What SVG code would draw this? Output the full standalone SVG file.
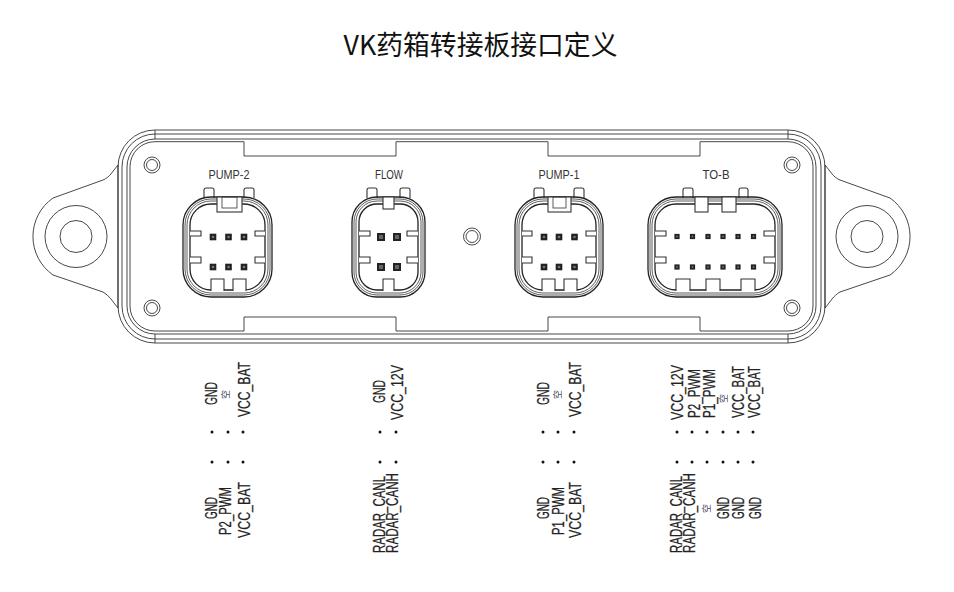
<svg xmlns="http://www.w3.org/2000/svg" width="954" height="592" viewBox="0 0 954 592">
<style>
.l{fill:none;stroke:#333;stroke-width:.9}
.k{fill:#fff;stroke:#333;stroke-width:1.1}
.r{fill:none;stroke:#333;stroke-width:.8}
.o{fill:none;stroke:#222;stroke-width:1.3}
.d{fill:#111}
.t{font-family:"Liberation Sans",Arial,sans-serif;font-size:16px;fill:#222;stroke:#222;stroke-width:.25}
.c{font-family:"Noto Sans CJK SC",sans-serif;font-size:9px;fill:#445}
.n{font-family:"Liberation Sans",Arial,sans-serif;font-size:12.5px;fill:#333;text-anchor:middle}
</style>
<defs>
<g id="pin"><rect x="-3.300" y="-3.300" width="6.600" height="6.600" fill="#222"/><circle r="1.300" fill="#777"/></g>
<g id="pin-s"><rect x="-2.600" y="-2.600" width="5.200" height="5.200" fill="#222"/><circle r=".9" fill="#777"/></g>
<g id="pin-f"><rect x="-4" y="-4" width="8" height="8" fill="#222"/><rect x="-2" y="-2" width="4" height="4" fill="#666"/></g>
</defs>
<rect width="954" height="592" fill="#fff"/>
<text id="title" x="480.500" y="55" text-anchor="middle" font-family="'Noto Sans CJK SC',sans-serif" font-size="26.800" fill="#111">VK药箱转接板接口定义</text>
<g id="plate">
<path class="l" d="M118 165C112 172 110 177 103 180L53 198A47 47 0 0 0 53 275L103 292C110 296 112 301 118 308"/>
<path class="l" d="M825 165C831 172 833 177 840 180L890 198A47 47 0 0 1 890 275L840 292C833 296 831 301 825 308"/>
<circle class="l" cx="76" cy="236.500" r="31"/><circle class="l" cx="76" cy="236.500" r="16"/>
<circle class="l" cx="867" cy="236.500" r="31"/><circle class="l" cx="867" cy="236.500" r="16"/>
<rect class="l" x="118" y="130" width="707" height="213" rx="37"/>
<rect class="l" x="122" y="134" width="699" height="205" rx="33"/>
<rect class="l" x="127" y="139" width="689" height="195" rx="28"/>
<path class="l" d="M155 130V139M788 130V139M155 334V343M788 334V343M118 165V308M825 165V308"/>
<path class="l" d="M155 141.700H244V156H396V141.700H548V156H700V141.700H788A25 25 0 0 1 813 166.700V306A25 25 0 0 1 788 331H700V317H548V331H396V317H244V331H155A25 25 0 0 1 130 306V166.700A25 25 0 0 1 155 141.700Z"/>
<g id="holes">
<circle class="l" cx="152" cy="165" r="8"/><circle class="l" cx="152" cy="165" r="5.500"/>
<circle class="l" cx="152" cy="308" r="8"/><circle class="l" cx="152" cy="308" r="5.500"/>
<circle class="l" cx="792" cy="165" r="8"/><circle class="l" cx="792" cy="165" r="5.500"/>
<circle class="l" cx="792" cy="308" r="8"/><circle class="l" cx="792" cy="308" r="5.500"/>
<circle class="l" cx="472" cy="236.500" r="8.500"/><circle class="l" cx="472" cy="236.500" r="6"/>
</g>
</g>
<g id="pump-2">
<text class="n" x="229" y="179" textLength="41" lengthAdjust="spacingAndGlyphs">PUMP-2</text>
<path class="k" d="M204 198V190Q204 188 206 188H212Q214 188 214 190V198M244 198V190Q244 188 246 188H252Q254 188 254 190V198"/>
<rect class="o" x="183" y="197" width="89" height="100" rx="28"/><rect class="r" x="185" y="199" width="85" height="96" rx="26"/><rect class="r" x="187" y="201" width="81" height="92" rx="24"/><rect class="o" x="190" y="204" width="75" height="86" rx="21"/>
<rect class="k" x="217" y="197" width="25" height="15"/><rect class="r" x="222" y="197" width="15" height="11"/>
<path class="k" d="M190 231H201V236H190M190 257H201V263H190M265 231H255V236H265M265 257H255V263H265"/>
<path class="k" d="M211 291V279H224V291M233 291V279H246V291"/>
<use href="#pin" x="213" y="237"/><use href="#pin" x="228.500" y="237"/><use href="#pin" x="244" y="237"/><use href="#pin" x="213" y="267"/><use href="#pin" x="228.500" y="267"/><use href="#pin" x="244" y="267"/>
</g>
<g id="flow">
<text class="n" x="389" y="179" textLength="28" lengthAdjust="spacingAndGlyphs">FLOW</text>
<path class="k" d="M367 198V190Q367 188 369 188H375Q377 188 377 190V198M400 198V190Q400 188 402 188H408Q410 188 410 190V198"/>
<rect class="o" x="352" y="197" width="73" height="100" rx="25"/><rect class="r" x="354" y="199" width="69" height="96" rx="23"/><rect class="r" x="356" y="201" width="65" height="92" rx="21"/><rect class="o" x="359" y="204" width="59" height="86" rx="18"/>
<rect class="k" x="383" y="197" width="11" height="12"/>
<path class="k" d="M359 231H370V236H359M359 257H370V263H359M418 231H407V236H418M418 257H407V263H418"/>
<path class="k" d="M383 291V279H394V291"/>
<use href="#pin-f" x="381" y="237"/><use href="#pin-f" x="397" y="237"/><use href="#pin-f" x="381" y="267"/><use href="#pin-f" x="397" y="267"/>
</g>
<g id="pump-1">
<text class="n" x="559" y="179" textLength="41" lengthAdjust="spacingAndGlyphs">PUMP-1</text>
<path class="k" d="M534 198V190Q534 188 536 188H542Q544 188 544 190V198M574 198V190Q574 188 576 188H582Q584 188 584 190V198"/>
<rect class="o" x="515" y="197" width="88" height="100" rx="28"/><rect class="r" x="517" y="199" width="84" height="96" rx="26"/><rect class="r" x="519" y="201" width="80" height="92" rx="24"/><rect class="o" x="522" y="204" width="74" height="86" rx="21"/>
<rect class="k" x="548" y="197" width="23" height="15"/><rect class="r" x="553" y="197" width="13" height="11"/>
<path class="k" d="M522 231H532V236H522M522 257H532V263H522M596 231H586V236H596M596 257H586V263H596"/>
<path class="k" d="M542 291V279H555V291M564 291V279H577V291"/>
<use href="#pin" x="544" y="237"/><use href="#pin" x="559" y="237"/><use href="#pin" x="574.500" y="237"/><use href="#pin" x="544" y="267"/><use href="#pin" x="559" y="267"/><use href="#pin" x="574.500" y="267"/>
</g>
<g id="to-b">
<text class="n" x="716" y="179" textLength="27" lengthAdjust="spacingAndGlyphs">TO-B</text>
<path class="k" d="M683 198V190Q683 188 685 188H691Q693 188 693 190V198M739 198V190Q739 188 741 188H746Q748 188 748 190V198"/>
<rect class="o" x="648" y="197" width="134" height="100" rx="28"/><rect class="r" x="650" y="199" width="130" height="96" rx="26"/><rect class="r" x="652" y="201" width="126" height="92" rx="24"/><rect class="o" x="655" y="204" width="120" height="86" rx="21"/>
<rect class="k" x="695" y="197" width="13" height="15"/><rect class="k" x="722" y="197" width="14" height="15"/>
<path class="k" d="M655 231H666V236H655M655 257H666V263H655M775 231H764V236H775M775 257H764V263H775"/>
<path class="k" d="M676 291V279H690V291M706 291V279H720V291M741 291V279H755V291"/>
<use href="#pin-s" x="677" y="236.500"/><use href="#pin-s" x="692.500" y="236.500"/><use href="#pin-s" x="708" y="236.500"/><use href="#pin-s" x="723" y="236.500"/><use href="#pin-s" x="738" y="236.500"/><use href="#pin-s" x="753.500" y="236.500"/><use href="#pin-s" x="677" y="267"/><use href="#pin-s" x="692.500" y="267"/><use href="#pin-s" x="708" y="267"/><use href="#pin-s" x="723" y="267"/><use href="#pin-s" x="738" y="267"/><use href="#pin-s" x="753.500" y="267"/>
</g>
<g id="pinout-pump-2">
<text class="t" transform="translate(217 405) rotate(-90)" textLength="23" lengthAdjust="spacingAndGlyphs">GND</text>
<text class="c" transform="translate(229 399) rotate(-90)">空</text>
<text class="t" transform="translate(250 417) rotate(-90)" textLength="55" lengthAdjust="spacingAndGlyphs">VCC_BAT</text>
<text class="t" transform="translate(217 519) rotate(-90)" textLength="22" lengthAdjust="spacingAndGlyphs">GND</text>
<text class="t" transform="translate(231 535) rotate(-90)" textLength="48" lengthAdjust="spacingAndGlyphs">P2_PWM</text>
<text class="t" transform="translate(250 538) rotate(-90)" textLength="56" lengthAdjust="spacingAndGlyphs">VCC_BAT</text>
<circle class="d" cx="212" cy="432" r="1.500"/><circle class="d" cx="228" cy="432" r="1.500"/><circle class="d" cx="243" cy="432" r="1.500"/>
<circle class="d" cx="212" cy="462" r="1.500"/><circle class="d" cx="228" cy="462" r="1.500"/><circle class="d" cx="243" cy="462" r="1.500"/>
</g>
<g id="pinout-flow">
<text class="t" transform="translate(385 403) rotate(-90)" textLength="23" lengthAdjust="spacingAndGlyphs">GND</text>
<text class="t" transform="translate(403 420) rotate(-90)" textLength="55" lengthAdjust="spacingAndGlyphs">VCC_12V</text>
<text class="t" transform="translate(385 553) rotate(-90)" textLength="77" lengthAdjust="spacingAndGlyphs">RADAR_CANL</text>
<text class="t" transform="translate(398 553) rotate(-90)" textLength="80" lengthAdjust="spacingAndGlyphs">RADAR_CANH</text>
<circle class="d" cx="380" cy="432" r="1.500"/><circle class="d" cx="396" cy="432" r="1.500"/>
<circle class="d" cx="380" cy="462" r="1.500"/><circle class="d" cx="396" cy="462" r="1.500"/>
</g>
<g id="pinout-pump-1">
<text class="t" transform="translate(549 405) rotate(-90)" textLength="23" lengthAdjust="spacingAndGlyphs">GND</text>
<text class="c" transform="translate(561 399) rotate(-90)">空</text>
<text class="t" transform="translate(581 417) rotate(-90)" textLength="55" lengthAdjust="spacingAndGlyphs">VCC_BAT</text>
<text class="t" transform="translate(549 519) rotate(-90)" textLength="22" lengthAdjust="spacingAndGlyphs">GND</text>
<text class="t" transform="translate(564 535) rotate(-90)" textLength="48" lengthAdjust="spacingAndGlyphs">P1_PWM</text>
<text class="t" transform="translate(581 538) rotate(-90)" textLength="56" lengthAdjust="spacingAndGlyphs">VCC_BAT</text>
<circle class="d" cx="543" cy="432" r="1.500"/><circle class="d" cx="558" cy="432" r="1.500"/><circle class="d" cx="574" cy="432" r="1.500"/>
<circle class="d" cx="543" cy="462" r="1.500"/><circle class="d" cx="558" cy="462" r="1.500"/><circle class="d" cx="574" cy="462" r="1.500"/>
</g>
<g id="pinout-to-b">
<text class="t" transform="translate(683 420) rotate(-90)" textLength="55" lengthAdjust="spacingAndGlyphs">VCC_12V</text>
<text class="t" transform="translate(700 418) rotate(-90)" textLength="49" lengthAdjust="spacingAndGlyphs">P2_PWM</text>
<text class="t" transform="translate(715 418) rotate(-90)" textLength="49" lengthAdjust="spacingAndGlyphs">P1_PWM</text>
<text class="c" transform="translate(727 403) rotate(-90)">空</text>
<text class="t" transform="translate(744 418) rotate(-90)" textLength="52" lengthAdjust="spacingAndGlyphs">VCC_BAT</text>
<text class="t" transform="translate(760 418) rotate(-90)" textLength="52" lengthAdjust="spacingAndGlyphs">VCC_BAT</text>
<text class="t" transform="translate(681.500 553) rotate(-90)" textLength="77" lengthAdjust="spacingAndGlyphs">RADAR_CANL</text>
<text class="t" transform="translate(695 553) rotate(-90)" textLength="80" lengthAdjust="spacingAndGlyphs">RADAR_CANH</text>
<text class="c" transform="translate(710 513) rotate(-90)">空</text>
<text class="t" transform="translate(729 519) rotate(-90)" textLength="22" lengthAdjust="spacingAndGlyphs">GND</text>
<text class="t" transform="translate(744 519) rotate(-90)" textLength="22" lengthAdjust="spacingAndGlyphs">GND</text>
<text class="t" transform="translate(761 519) rotate(-90)" textLength="22" lengthAdjust="spacingAndGlyphs">GND</text>
<circle class="d" cx="677" cy="432" r="1.500"/><circle class="d" cx="692" cy="432" r="1.500"/><circle class="d" cx="707" cy="432" r="1.500"/><circle class="d" cx="723" cy="432" r="1.500"/><circle class="d" cx="738" cy="432" r="1.500"/><circle class="d" cx="753" cy="432" r="1.500"/>
<circle class="d" cx="677" cy="462" r="1.500"/><circle class="d" cx="692" cy="462" r="1.500"/><circle class="d" cx="707" cy="462" r="1.500"/><circle class="d" cx="723" cy="462" r="1.500"/><circle class="d" cx="738" cy="462" r="1.500"/><circle class="d" cx="753" cy="462" r="1.500"/>
</g>
</svg>
